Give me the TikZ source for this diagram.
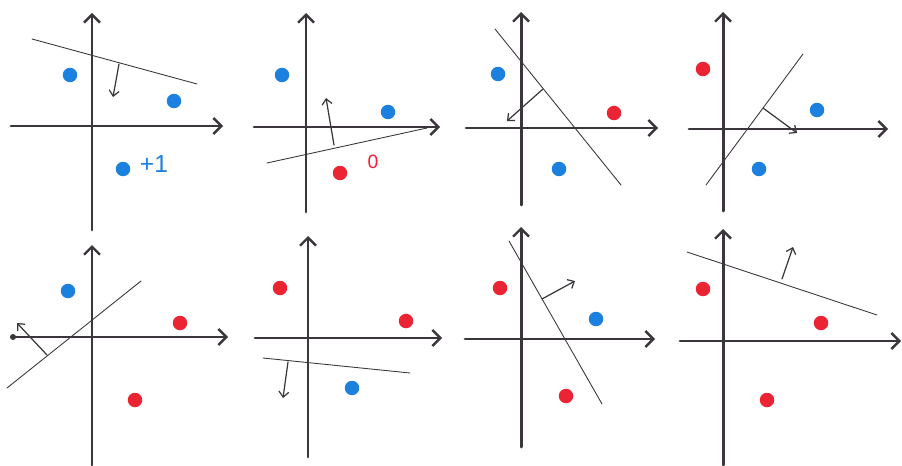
\documentclass[tikz,border=0pt]{standalone}
\usepackage{fontspec}
\newfontfamily\handfont{Liberation Sans}
\usetikzlibrary{arrows.meta}
\definecolor{dotblue}{RGB}{28,128,222}
\definecolor{dotred}{RGB}{234,36,50}
\definecolor{ink}{RGB}{58,54,60}
\begin{document}
\begin{tikzpicture}[x=0.02cm,y=-0.02cm,line join=round,line cap=round,
	axis/.style={ink,line width=1.7pt,-{Straight Barb[length=1.6mm,width=3.2mm,line width=1.4pt]}},
	sep/.style={ink,line width=0.5pt},
	normal/.style={ink,line width=0.7pt,-{Straight Barb[length=1.1mm,width=2mm]}},
	posdot/.style={circle,fill=dotblue,inner sep=0pt,minimum size=0.29cm},
	negdot/.style={circle,fill=dotred,inner sep=0pt,minimum size=0.29cm},
	hand/.style={font=\handfont\fontsize{14}{14}\selectfont}]
\useasboundingbox (0,0) rectangle (902,466);
% panel 1
\draw[axis] (11,126)--(223,126);
\draw[axis] (92,230)--(92,13);
\path (32,39) coordinate (s1a) (197,84) coordinate (s1b) (119,64) coordinate (f1);
\draw[sep] (s1a)--(s1b);
\draw[normal] (f1)--++(-6,33);
\node[posdot] (d1a) at (70,75) {};
\node[posdot] (d1b) at (174,101) {};
\node[posdot] (d1c) at (123,169) {};
\node[hand,dotblue] (l1) at (154,164) {+1};
% panel 2
\draw[axis] (254,127)--(440,127);
\draw[axis] (306,212)--(306,13);
\path (267,163) coordinate (s2a) (427,128) coordinate (s2b) (334,145) coordinate (f2);
\draw[sep] (s2a)--(s2b);
\draw[normal] (f2)--++(-8,-47);
\node[posdot] (d2a) at (282,75) {};
\node[posdot] (d2b) at (388,112) {};
\node[negdot] (d2c) at (340,173) {};
\node[hand,dotred,font=\handfont\fontsize{11}{11}\selectfont] (l2) at (373,162) {0};
% panel 3
\draw[axis] (466,128)--(658,128);
\draw[axis] (521,205)--(521,12);
\path (495,29) coordinate (s3a) (621,185) coordinate (s3b) (543,89) coordinate (f3);
\draw[sep] (s3a)--(s3b);
\draw[normal] (f3)--++(-36,32);
\node[posdot] (d3a) at (498,74) {};
\node[posdot] (d3b) at (559,169) {};
\node[negdot] (d3c) at (614,113) {};
% panel 4
\draw[axis] (689,129)--(888,129);
\draw[axis] (723,211)--(723,12);
\path (706,185) coordinate (s4a) (803,54) coordinate (s4b) (763,108) coordinate (f4);
\draw[sep] (s4a)--(s4b);
\draw[normal] (f4)--++(34,25);
\node[negdot] (d4a) at (703,69) {};
\node[posdot] (d4b) at (817,110) {};
\node[posdot] (d4c) at (759,169) {};
% panel 5
\draw[axis] (12,337)--(228,337);
\draw[axis] (92,465)--(92,245);
\fill[ink] (13,337) circle (0.06cm);
\path (7,388) coordinate (s5a) (141,281) coordinate (s5b) (47,355) coordinate (f5);
\draw[sep] (s5a)--(s5b);
\draw[normal] (f5)--++(-30,-32);
\node[posdot] (d5a) at (68,291) {};
\node[negdot] (d5b) at (180,323) {};
\node[negdot] (d5c) at (135,400) {};
% panel 6
\draw[axis] (255,338)--(442,338);
\draw[axis] (308,457)--(308,236);
\path (263,358) coordinate (s6a) (410,373) coordinate (s6b) (288,362) coordinate (f6);
\draw[sep] (s6a)--(s6b);
\draw[normal] (f6)--++(-5,36);
\node[negdot] (d6a) at (280,288) {};
\node[negdot] (d6b) at (406,321) {};
\node[posdot] (d6c) at (352,388) {};
% panel 7
\draw[axis] (465,339)--(655,339);
\draw[axis] (521,447)--(521,227);
\path (509,241) coordinate (s7a) (602,404) coordinate (s7b) (542,299) coordinate (f7);
\draw[sep] (s7a)--(s7b);
\draw[normal] (f7)--++(33,-18);
\node[negdot] (d7a) at (500,288) {};
\node[negdot] (d7b) at (566,396) {};
\node[posdot] (d7c) at (596,319) {};
% panel 8
\draw[axis] (680,341)--(901,341);
\draw[axis] (723,465)--(723,229);
\path (687,252) coordinate (s8a) (877,315) coordinate (s8b) (782,279) coordinate (f8);
\draw[sep] (s8a)--(s8b);
\draw[normal] (f8)--++(11,-32);
\node[negdot] (d8a) at (703,289) {};
\node[negdot] (d8b) at (821,323) {};
\node[negdot] (d8c) at (767,400) {};
\end{tikzpicture}
\end{document}
